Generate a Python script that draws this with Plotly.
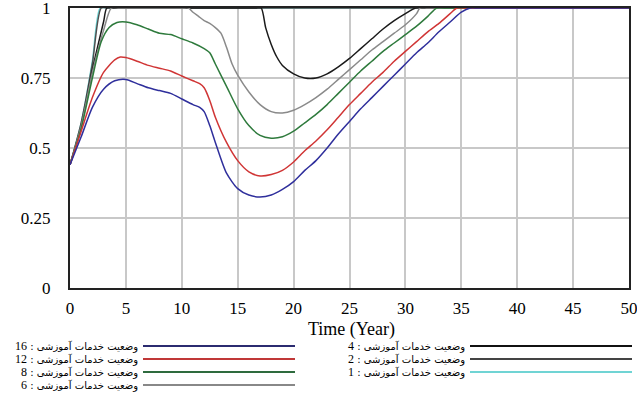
import plotly.graph_objects as go

# ---- data ----
labels = ["16", "12", "8", "6", "4", "2", "1"]
series_name = "وضعیت خدمات آموزشی"

t16 = [0, 1, 2, 3, 4, 5, 6, 7, 8, 9, 10, 11, 11.6, 12, 12.5, 13, 14, 15, 16, 17, 18, 19, 20, 21, 22, 23, 24, 25, 26, 27, 28, 29, 30, 31, 32, 33, 34, 35, 35.8, 36.5, 40, 45, 50]
y16 = [0.44, 0.54, 0.645, 0.71, 0.74, 0.745, 0.73, 0.715, 0.705, 0.695, 0.675, 0.655, 0.645, 0.63, 0.58, 0.52, 0.41, 0.355, 0.332, 0.325, 0.332, 0.352, 0.38, 0.42, 0.455, 0.50, 0.55, 0.595, 0.64, 0.68, 0.72, 0.76, 0.80, 0.84, 0.875, 0.915, 0.95, 0.985, 1.0, 1.0, 1.0, 1.0, 1.0]

t12 = [0, 1, 2, 3, 4, 4.5, 5, 6, 7, 8, 9, 10, 11, 11.6, 12, 12.5, 13, 14, 15, 16, 17, 18, 19, 20, 21, 22, 23, 24, 25, 26, 27, 28, 29, 30, 31, 32, 33, 34, 34.6, 35.3, 40, 45, 50]
y12 = [0.44, 0.56, 0.68, 0.77, 0.815, 0.825, 0.823, 0.81, 0.795, 0.785, 0.775, 0.757, 0.74, 0.73, 0.715, 0.67, 0.61, 0.52, 0.455, 0.415, 0.40, 0.405, 0.42, 0.45, 0.49, 0.525, 0.565, 0.61, 0.655, 0.695, 0.735, 0.77, 0.81, 0.845, 0.88, 0.915, 0.945, 0.98, 1.0, 1.0, 1.0, 1.0, 1.0]

t8 = [0, 1, 2, 2.8, 3.5, 4.2, 5, 6, 7, 8, 9, 10, 11, 12, 12.5, 13, 14, 15, 16, 17, 18, 19, 20, 21, 22, 23, 24, 25, 26, 27, 28, 29, 30, 31, 32, 32.8, 33.5, 40, 45, 50]
y8 = [0.44, 0.57, 0.75, 0.88, 0.93, 0.948, 0.95, 0.94, 0.925, 0.91, 0.905, 0.89, 0.875, 0.855, 0.84, 0.80, 0.72, 0.64, 0.58, 0.545, 0.535, 0.54, 0.56, 0.59, 0.62, 0.655, 0.695, 0.735, 0.775, 0.81, 0.845, 0.875, 0.905, 0.935, 0.97, 1.0, 1.0, 1.0, 1.0, 1.0]

t6 = [0, 1, 2, 3, 3.7, 4.4, 7, 10, 10.6, 11, 11.5, 12, 12.5, 13, 13.5, 14, 14.5, 15, 16, 17, 18, 19, 20, 21, 22, 23, 24, 25, 26, 27, 28, 29, 30, 31, 31.3, 32, 40, 45, 50]
y6 = [0.44, 0.58, 0.77, 0.92, 1.0, 1.0, 1.0, 1.0, 1.0, 0.985, 0.97, 0.955, 0.945, 0.93, 0.91, 0.86, 0.80, 0.76, 0.70, 0.655, 0.63, 0.625, 0.635, 0.655, 0.68, 0.71, 0.745, 0.78, 0.815, 0.85, 0.88, 0.91, 0.94, 0.98, 1.0, 1.0, 1.0, 1.0, 1.0]

t4 = [0, 1, 2, 3, 3.3, 4, 10, 16.6, 17.1, 17.5, 18, 18.5, 19, 20, 21, 22, 23, 24, 25, 26, 27, 28, 29, 30, 30.9, 31.6, 40, 45, 50]
y4 = [0.44, 0.58, 0.78, 0.95, 1.0, 1.0, 1.0, 1.0, 1.0, 0.93, 0.87, 0.825, 0.795, 0.765, 0.75, 0.75, 0.765, 0.79, 0.82, 0.855, 0.89, 0.925, 0.955, 0.98, 1.0, 1.0, 1.0, 1.0, 1.0]

t2 = [0, 1, 2, 2.8, 3.5, 10, 20, 30, 40, 50]
y2 = [0.44, 0.59, 0.80, 1.0, 1.0, 1.0, 1.0, 1.0, 1.0, 1.0]

t1 = [0, 1, 2, 2.7, 3.4, 10, 20, 30, 40, 50]
y1 = [0.44, 0.59, 0.81, 1.0, 1.0, 1.0, 1.0, 1.0, 1.0, 1.0]

x_ticks = [0, 5, 10, 15, 20, 25, 30, 35, 40, 45, 50]
y_ticks = [0, 0.25, 0.5, 0.75, 1]
y_tick_text = ["0", "0.25", "0.5", "0.75", "1"]
x_title = "Time (Year)"

colors = {"16": "#2f2f9c", "12": "#d03535", "8": "#2e7a3c", "6": "#8a8a8a",
          "4": "#1a1a1a", "2": "#505050", "1": "#6fd6d6"}
legend_colors = {"16": "#2b2b70", "12": "#c03838", "8": "#2e6b3e", "6": "#888888",
                 "4": "#111111", "2": "#444444", "1": "#70d4d4"}

data = {"16": (t16, y16), "12": (t12, y12), "8": (t8, y8), "6": (t6, y6),
        "4": (t4, y4), "2": (t2, y2), "1": (t1, y1)}

fig = go.Figure()
for key in ["1", "2", "4", "6", "8", "12", "16"]:
    tx, ty = data[key]
    fig.add_trace(go.Scatter(x=tx, y=ty, mode="lines", name=key,
                             line=dict(color=colors[key], width=1.5, shape="spline", smoothing=0.7),
                             showlegend=False))

# layout geometry (pixels)
L, R, T, B = 70, 629, 8, 288
W, H = R - L, B - T
def px(x): return (x - L) / W
def py(y): return (B - y) / H

serif = "Liberation Serif"
fig.update_layout(
    width=637, height=395,
    margin=dict(l=L, r=637 - R, t=T, b=395 - B),
    paper_bgcolor="white", plot_bgcolor="white",
    xaxis=dict(range=[0, 50], tickvals=x_ticks, showgrid=True, gridcolor="#c8c8c8", gridwidth=1.5,
               zeroline=False, showline=True, linecolor="#222", linewidth=2, mirror=True,
               ticks="", ticklabelstandoff=4, ticklabeloverflow="allow", automargin=False,
               tickfont=dict(family=serif, size=17, color="black")),
    yaxis=dict(range=[0, 1], tickvals=y_ticks, ticktext=y_tick_text, showgrid=True, gridcolor="#c8c8c8",
               gridwidth=1.5, zeroline=False, showline=True, linecolor="#222", linewidth=2, mirror=True,
               ticks="", ticklabelstandoff=14, ticklabeloverflow="allow", automargin=False,
               tickfont=dict(family=serif, size=17, color="black")),
)

annotations = [dict(xref="paper", yref="paper", x=px(351), y=py(329), xanchor="center", yanchor="middle",
                    showarrow=False, text=x_title, font=dict(family=serif, size=18, color="black"))]

# custom legend below the plot
left_rows = [("16", 346), ("12", 359), ("8", 372), ("6", 385)]
right_rows = [("4", 346), ("2", 359), ("1", 372)]
shapes = []
for rows, text_right, x0, x1 in [(left_rows, 140, 143, 295), (right_rows, 467, 470, 632)]:
    for key, yy in rows:
        shapes.append(dict(type="line", xref="paper", yref="paper",
                           x0=px(x0), x1=px(x1), y0=py(yy), y1=py(yy),
                           line=dict(color=legend_colors[key], width=2)))
        annotations.append(dict(
            xref="paper", yref="paper", x=px(text_right), y=py(yy),
            xanchor="right", yanchor="middle", showarrow=False,
            text=series_name + " : <span style='font-family:Liberation Serif;font-size:12px'>" + key + "</span>",
            font=dict(family="DejaVu Sans", size=10, color="black")))
fig.update_layout(shapes=shapes, annotations=annotations)

fig.write_html("out.html")
